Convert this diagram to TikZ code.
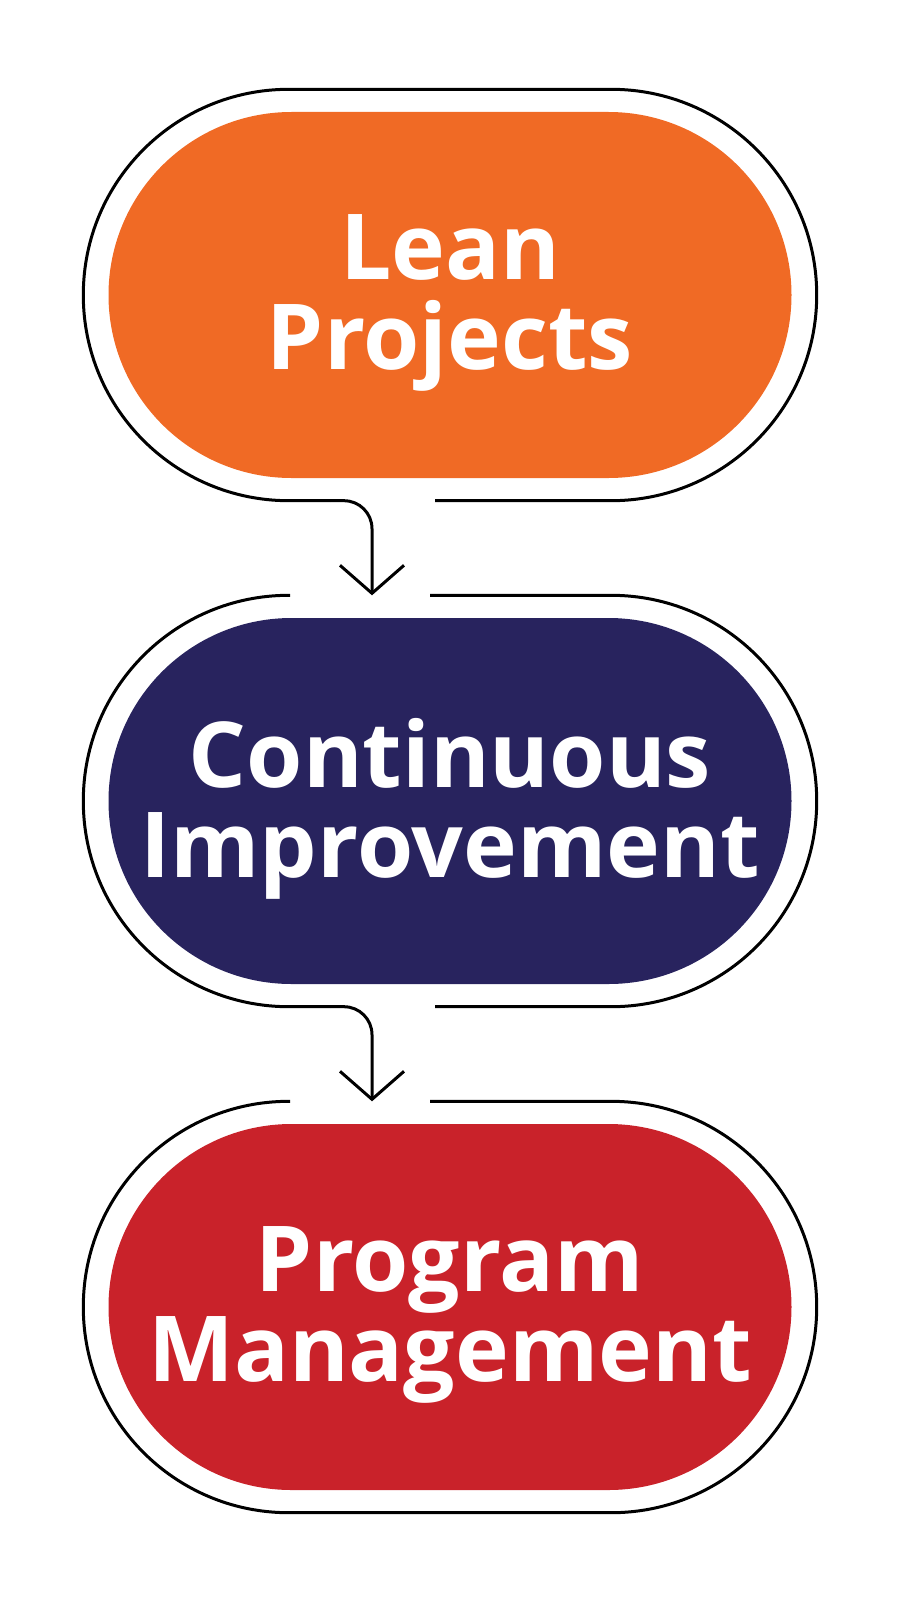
\documentclass[tikz,border=0pt]{standalone}
\usepackage{fontspec}
\setmainfont{Open Sans}
\usetikzlibrary{arrows.meta}

\definecolor{leanorange}{HTML}{F06A25}
\definecolor{cinavy}{HTML}{28235E}
\definecolor{pmred}{HTML}{C9222A}

\tikzset{
 stage/.style={rounded corners=183pt, minimum width=683pt, minimum height=366pt, inner sep=0pt},
 stagetext/.style={text=white, align=center, inner sep=0pt, font=\fontsize{91}{90}\selectfont\bfseries},
 rim/.style={minimum width=733pt, minimum height=411pt, inner sep=0pt},
 rimline/.style={line width=3pt, rounded corners=205.5pt},
 flow/.style={line width=3pt, rounded corners=28pt, -{Straight Barb[length=28pt,width=64pt]}}
}

\begin{document}
\begin{tikzpicture}[x=1pt,y=-1pt]

 \useasboundingbox (0,0) rectangle (900,1600);

 \node[stage, fill=leanorange] (lean) at (450,295) {};
 \node[rim] (leanrim) at (lean) {};
 \node[stagetext] (leantext) at ([yshift=-8pt]lean) {Lean\\Projects};

 \node[stage, fill=cinavy] (cont) at (450,801) {};
 \node[rim] (contrim) at (cont) {};
 \node[stagetext] (conttext) at ([yshift=-8pt]cont) {Continuous\\Improvement};

 \node[stage, fill=pmred] (pm) at (450,1307) {};
 \node[rim] (pmrim) at (pm) {};
 \node[stagetext] (pmtext) at ([yshift=-8pt]pm) {Program\\Management};

 % outer rims, open where the arrows pass
 \draw[rimline] ([xshift=-15pt]leanrim.south) -- (leanrim.south east) -- (leanrim.north east)
  -- (leanrim.north west) -- (leanrim.south west) -- ([xshift=-120pt]leanrim.south);

 \draw[rimline] ([xshift=-15pt]contrim.south) -- (contrim.south east) -- (contrim.north east)
  -- ([xshift=-20pt]contrim.north);
 \draw[rimline] ([xshift=-160pt]contrim.north) -- (contrim.north west) -- (contrim.south west)
  -- ([xshift=-120pt]contrim.south);

 \draw[rimline] ([xshift=-20pt]pmrim.north) -- (pmrim.north east) -- (pmrim.south east)
  -- (pmrim.south west) -- (pmrim.north west) -- ([xshift=-160pt]pmrim.north);

 % arrows
 \draw[flow] ([xshift=-120pt]leanrim.south) -- ([xshift=-78pt]leanrim.south) -- ([xshift=-78pt]contrim.north);
 \draw[flow] ([xshift=-120pt]contrim.south) -- ([xshift=-78pt]contrim.south) -- ([xshift=-78pt]pmrim.north);

\end{tikzpicture}
\end{document}
